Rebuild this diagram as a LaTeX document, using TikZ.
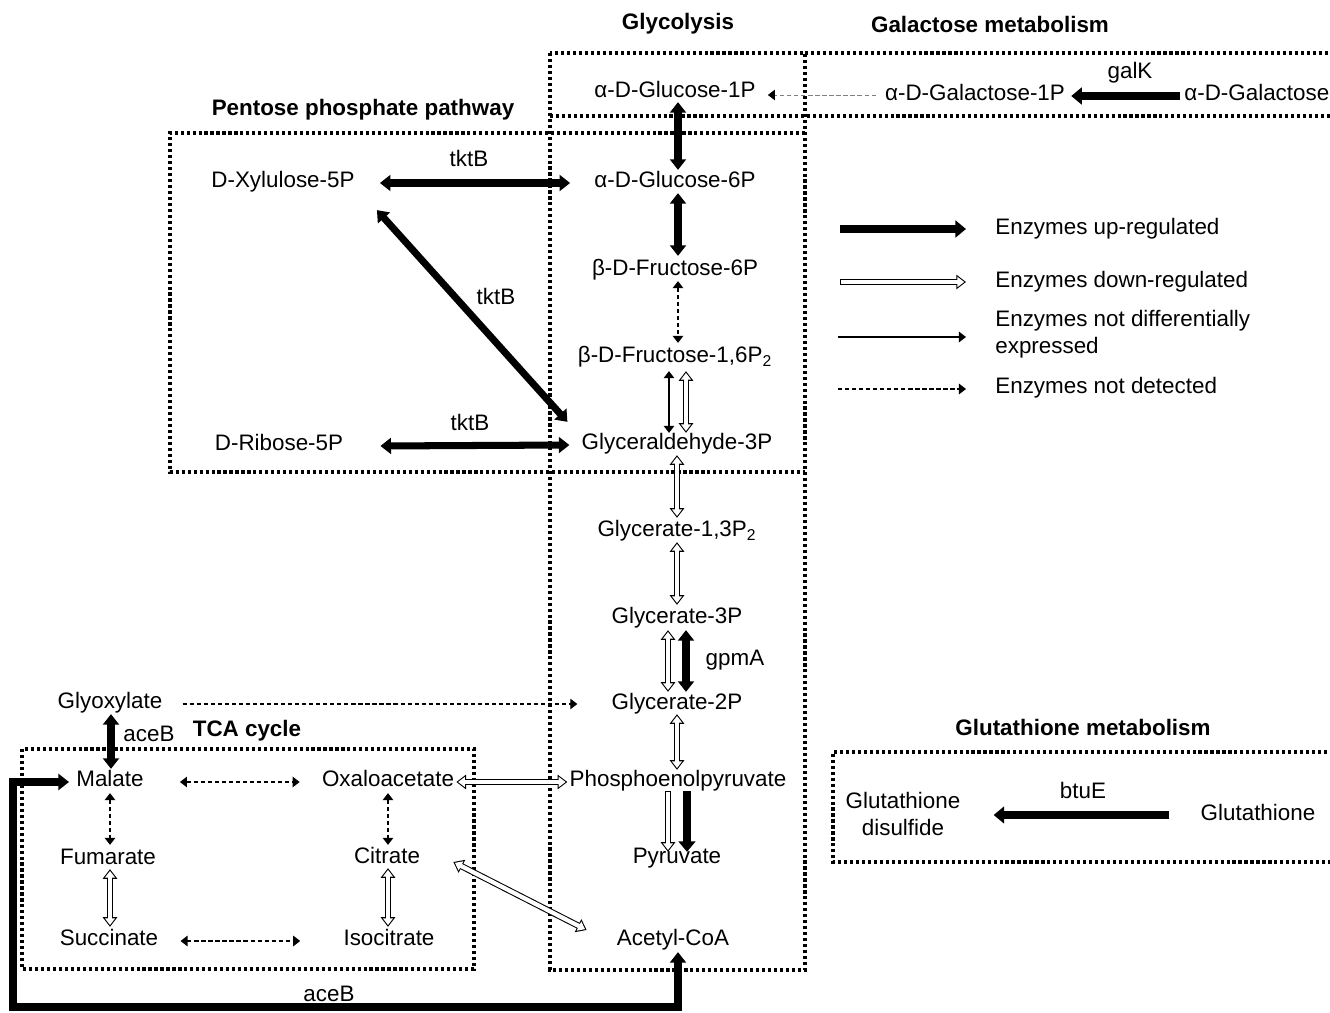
\documentclass[tikz,border=0pt]{standalone}
\usepackage{fontspec}
\setmainfont{Liberation Sans}
\usetikzlibrary{arrows.meta}
\begin{document}
\begin{tikzpicture}[x=0.02cm,y=-0.02cm,
  every node/.style={font=\fontsize{12.75pt}{15.3pt}\selectfont, inner sep=0pt},
  met/.style={text height=0.75em, text depth=0.25em},
  hd/.style={font=\fontsize{12.75pt}{15.3pt}\selectfont\bfseries},
  dotbox/.style={line width=1.8pt, dash pattern=on 1.8pt off 1.6pt},
  upboth/.style={line width=4pt, {Triangle[width=9pt,length=6pt]}-{Triangle[width=9pt,length=6pt]}},
  upfwd/.style={line width=4.5pt, -{Triangle[width=9.5pt,length=6pt]}},
  thinboth/.style={line width=0.7pt, {Triangle[width=6pt,length=4pt]}-{Triangle[width=6pt,length=4pt]}},
  thinfwd/.style={line width=0.7pt, -{Triangle[width=6pt,length=4pt]}},
  dashboth/.style={thinboth, dash pattern=on 2.4pt off 1.6pt},
  dashfwd/.style={thinfwd, dash pattern=on 2.4pt off 1.6pt},
  graydash/.style={line width=0.5pt, draw=gray, dash pattern=on 2.4pt off 1.6pt, -{Triangle[width=6pt,length=4pt,color=black]}},
  openboth/.style={line width=3.6pt, {Triangle[width=8pt,length=5.5pt]}-{Triangle[width=8pt,length=5.5pt]},
    postaction={draw=white, line width=2.4pt, shorten >=1pt, shorten <=1pt,
      {Triangle[width=5.6pt,length=3.9pt]}-{Triangle[width=5.6pt,length=3.9pt]}}},
  openfwd/.style={line width=3.6pt, -{Triangle[width=8pt,length=5.5pt]},
    postaction={draw=white, line width=2.4pt, shorten >=1pt, shorten <=0.6pt,
      -{Triangle[width=5.6pt,length=3.9pt]}}},
]
\useasboundingbox (0,0) rectangle (1330,1013);

% ---------- boxes ----------
\draw[dotbox] (550,53) rectangle (805,970);
\draw[dotbox] (805,53) -- (1345,53);
\draw[dotbox] (550,116) -- (1345,116);
\draw[dotbox] (805,133) -- (170,133) -- (170,472) -- (805,472);
\draw[dotbox] (22,749) rectangle (474,969);
\draw[dotbox] (1345,752) -- (833,752) -- (833,862) -- (1345,862);

% ---------- headings ----------
\node[hd] (hGly) at (678,24) {Glycolysis};
\node[hd] (hGal) at (990,24) {Galactose metabolism};
\node[hd] (hPPP) at (363,110) {Pentose phosphate pathway};
\node[hd] (hTCA) at (247,731) {TCA cycle};
\node[hd] (hGSH) at (1083,727) {Glutathione metabolism};

% ---------- metabolites ----------
\node[met] (g1p) at (675,93) {α-D-Glucose-1P};
\node[met] (gal1p) at (975,96) {α-D-Galactose-1P};
\node[met,anchor=west] (gal) at (1184,96) {α-D-Galactose};
\node[met] (g6p) at (675,183) {α-D-Glucose-6P};
\node[met] (f6p) at (675,271) {β-D-Fructose-6P};
\node[met] (f16p) at (675,358) {β-D-Fructose-1,6P\textsubscript{2}};
\node[met] (gap) at (677,445) {Glyceraldehyde-3P};
\node[met] (g13p) at (677,532) {Glycerate-1,3P\textsubscript{2}};
\node[met] (g3p) at (677,619) {Glycerate-3P};
\node[met] (g2p) at (677,705) {Glycerate-2P};
\node[met] (pep) at (678,782) {Phosphoenolpyruvate};
\node[met] (pyr) at (677,859) {Pyruvate};
\node[met] (acoa) at (673,941) {Acetyl-CoA};
\node[met] (xu5p) at (283,183) {D-Xylulose-5P};
\node[met] (r5p) at (279,446) {D-Ribose-5P};
\node[met] (glyox) at (110,704) {Glyoxylate};
\node[met] (mal) at (110,782) {Malate};
\node[met] (oaa) at (388,782) {Oxaloacetate};
\node[met] (fum) at (108,860) {Fumarate};
\node[met] (cit) at (387,859) {Citrate};
\node[met] (suc) at (109,941) {Succinate};
\node[met] (icit) at (389,941) {Isocitrate};
\node[align=center] (gssg) at (903,814) {Glutathione\\disulfide};
\node[met] (gsh) at (1258,816) {Glutathione};

% ---------- enzyme labels ----------
\node[met] (eTk1) at (469,162) {tktB};
\node[met] (eTk2) at (496,300) {tktB};
\node[met] (eTk3) at (470,426) {tktB};
\node[met] (eGpm) at (735,661) {gpmA};
\node[met] (eAce1) at (149,737) {aceB};
\node[met] (eAce2) at (329,997) {aceB};
\node[met] (eGal) at (1130,74) {galK};
\node[met] (eBtu) at (1083,794) {btuE};

% ---------- glycolysis ----------
\draw[upboth] ([shift={(3,0)}]g1p.south) -- ([shift={(3,-4)}]g6p.north);
\draw[upboth] ([shift={(3,1)}]g6p.south) -- ([shift={(3,-6)}]f6p.north);
\draw[dashboth] ([shift={(3,1)}]f6p.south) -- ([shift={(3,-6)}]f16p.north);
\draw[thinboth] ([shift={(-6,4)}]f16p.south) -- ([shift={(-8,-3)}]gap.north);
\draw[openboth] ([shift={(11,4)}]f16p.south) -- ([shift={(9,-3)}]gap.north);
\draw[openboth] ([shift={(0,1)}]gap.south) -- ([shift={(0,-5)}]g13p.north);
\draw[openboth] ([shift={(0,1)}]g13p.south) -- ([shift={(0,-5)}]g3p.north);
\draw[openboth] ([shift={(-9,2)}]g3p.south) -- ([shift={(-9,-4)}]g2p.north);
\draw[upboth] ([shift={(9,2)}]g3p.south) -- ([shift={(9,-4)}]g2p.north);
\draw[openboth] ([shift={(0,0)}]g2p.south) -- ([shift={(-1,-3)}]pep.north);
\draw[openfwd] ([shift={(-10,0)}]pep.south) -- ([shift={(-9,2)}]pyr.north);
\draw[upfwd] ([shift={(9,0)}]pep.south) -- ([shift={(10,2)}]pyr.north);

% ---------- galactose ----------
\draw[graydash] ([shift={(-9,-1)}]gal1p.west) -- ([shift={(12,2)}]g1p.east);
\draw[upfwd] ([shift={(-4,0)}]gal.west) -- ([shift={(6,0)}]gal1p.east);

% ---------- pentose phosphate ----------
\draw[upboth] ([shift={(25,0)}]xu5p.east) -- ([shift={(-24,0)}]g6p.west);
\draw[upboth] ([shift={(22,18)}]xu5p.south east) -- ([shift={(-14,-14)}]gap.north west);
\draw[upboth] ([shift={(37,0)}]r5p.east) -- ([shift={(-12,0)}]gap.west);

% ---------- TCA ----------
\draw[openboth] ([shift={(2,0)}]oaa.east) -- ([shift={(-2,0)}]pep.west);
\draw[openboth] ([shift={(33,3)}]cit.east) -- ([shift={(-30,-11)}]acoa.west);
\draw[upboth] ([shift={(1,1)}]glyox.south) -- ([shift={(1,-4)}]mal.north);
\draw[dashfwd] ([shift={(20,0)}]glyox.east) -- ([shift={(-34,-1)}]g2p.west);
\draw[dashboth] ([shift={(36,0)}]mal.east) -- ([shift={(-22,0)}]oaa.west);
\draw[dashboth] ([shift={(0,2)}]mal.south) -- ([shift={(2,-6)}]fum.north);
\draw[dashboth] ([shift={(0,2)}]oaa.south) -- ([shift={(1,-5)}]cit.north);
\draw[openboth] ([shift={(2,0)}]fum.south) -- ([shift={(1,-5)}]suc.north);
\draw[openboth] ([shift={(1,0)}]cit.south) -- ([shift={(-1,-5)}]icit.north);
\draw[dashboth] ([shift={(22,0)}]suc.east) -- ([shift={(-43,0)}]icit.west);

\coordinate (cA) at (13,782);
\coordinate (cB) at (13,1007);
\draw[upboth, line join=miter] ([shift={(-7,0)}]mal.west) -- (cA) -- (cB) -| ([shift={(5,2)}]acoa.south);

% ---------- glutathione ----------
\draw[upfwd] ([shift={(-31,-1)}]gsh.west) -- ([shift={(33,1)}]gssg.east);

% ---------- legend ----------
\coordinate (lu1) at (840,229); \coordinate (lu2) at (966,229);
\coordinate (ld1) at (840,282); \coordinate (ld2) at (966,282);
\coordinate (ln1) at (838,337); \coordinate (ln2) at (966,337);
\coordinate (lx1) at (838,389); \coordinate (lx2) at (966,389);
\draw[upfwd] (lu1) -- (lu2);
\draw[openfwd] (ld1) -- (ld2);
\draw[thinfwd] (ln1) -- (ln2);
\draw[dashfwd] (lx1) -- (lx2);
\node[met,anchor=west] (tu) at (995,230) {Enzymes up-regulated};
\node[met,anchor=west] (td) at (995,283) {Enzymes down-regulated};
\node[align=left,anchor=west] (tn) at (995,334) {Enzymes not differentially\\expressed};
\node[met,anchor=west] (tx) at (995,389) {Enzymes not detected};
\end{tikzpicture}
\end{document}
